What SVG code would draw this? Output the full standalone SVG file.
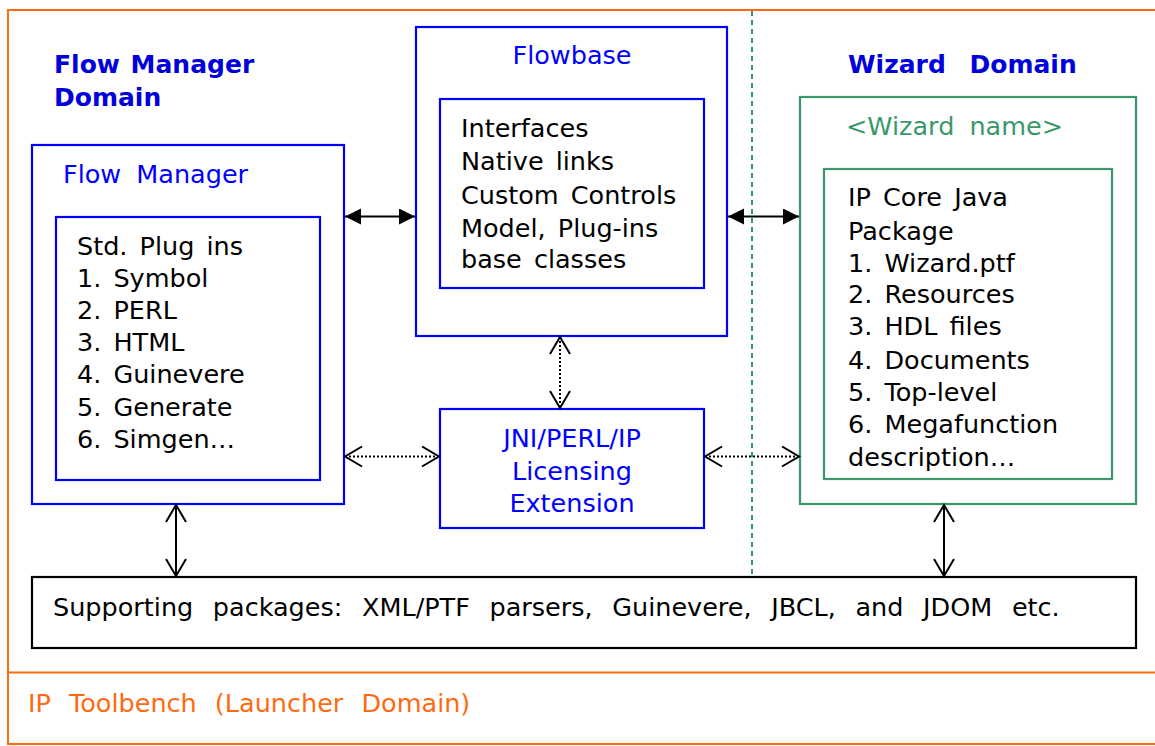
<svg xmlns="http://www.w3.org/2000/svg" width="1155" height="746" viewBox="0 0 1155 746">
  <defs>
    <style>
      text { font-family: "DejaVu Sans", Verdana, "Liberation Sans", sans-serif; font-size: 25.5px; fill: #000; word-spacing: 4px; }
      .title { font-weight: bold; font-size: 25px; fill: #0000dd; word-spacing: 2px; }
      .blue { fill: #0000ff; }
      .green { fill: #3a996a; }
      .orange { fill: #ff6a10; }
      .bbox { fill: #fff; stroke: #0000ff; stroke-width: 2.2; }
      .gbox { fill: #fff; stroke: #3a996a; stroke-width: 2.2; }
      .kbox { fill: #fff; stroke: #000; stroke-width: 2.2; }
      .frame { fill: none; stroke: #ff6a10; stroke-width: 2; }
      .solid { stroke: #000; stroke-width: 2; fill: none; }
      .dotted { stroke: #000; stroke-width: 2; fill: none; stroke-dasharray: 2 2; }
      .divider { stroke: #3a996a; stroke-width: 2; stroke-dasharray: 5 4; fill: none; }
    </style>
    <marker id="filled" markerUnits="userSpaceOnUse" markerWidth="18" markerHeight="18" refX="16" refY="8" orient="auto-start-reverse">
      <path d="M0,0 L16,8 L0,16 z" fill="#000"/>
    </marker>
    <marker id="open" markerUnits="userSpaceOnUse" markerWidth="20" markerHeight="24" refX="18" refY="11" orient="auto-start-reverse">
      <path d="M1,1 L18,11 L1,21" fill="none" stroke="#000" stroke-width="2"/>
    </marker>
  </defs>

  <g id="launcher-domain">
    <rect class="frame" x="8" y="10" width="1160" height="734"/>
    <line class="frame" x1="8" y1="672.5" x2="1155" y2="672.5"/>
    <text class="orange" x="28" y="712" style="word-spacing:10px">IP Toolbench (Launcher Domain)</text>
  </g>

  <g id="domain-divider">
    <line class="divider" x1="752" y1="11" x2="752" y2="576"/>
  </g>

  <g id="flow-manager-domain">
    <text class="title" x="54" y="73">Flow Manager</text>
    <text class="title" x="54" y="106">Domain</text>
  </g>

  <g id="flow-manager">
    <rect class="bbox" x="32" y="145" width="312" height="359"/>
    <text class="blue" x="63" y="183" style="word-spacing:7px">Flow Manager</text>
  </g>

  <g id="std-plugins">
    <rect class="bbox" x="56" y="217" width="264" height="263"/>
    <text x="77" y="255">Std. Plug ins</text>
    <text x="77" y="287">1. Symbol</text>
    <text x="77" y="319">2. PERL</text>
    <text x="77" y="351">3. HTML</text>
    <text x="77" y="383">4. Guinevere</text>
    <text x="77" y="416">5. Generate</text>
    <text x="77" y="448">6. Simgen…</text>
  </g>

  <g id="flowbase">
    <rect class="bbox" x="416" y="27" width="311" height="309"/>
    <text class="blue" x="572" y="64" text-anchor="middle">Flowbase</text>
  </g>

  <g id="flowbase-contents">
    <rect class="bbox" x="440" y="99" width="264" height="189"/>
    <text x="461" y="137">Interfaces</text>
    <text x="461" y="170">Native links</text>
    <text x="461" y="204">Custom Controls</text>
    <text x="461" y="237">Model, Plug-ins</text>
    <text x="461" y="268">base classes</text>
  </g>

  <g id="jni-extension">
    <rect class="bbox" x="440" y="409" width="264" height="119"/>
    <text class="blue" x="572" y="447" text-anchor="middle">JNI/PERL/IP</text>
    <text class="blue" x="572" y="480" text-anchor="middle">Licensing</text>
    <text class="blue" x="572" y="512" text-anchor="middle">Extension</text>
  </g>

  <g id="wizard-domain">
    <text class="title" x="848" y="73" style="word-spacing:15px">Wizard Domain</text>
  </g>

  <g id="wizard">
    <rect class="gbox" x="800" y="97" width="336" height="407"/>
    <text class="green" x="846" y="135" style="word-spacing:7px">&lt;Wizard name&gt;</text>
  </g>

  <g id="ip-core-package">
    <rect class="gbox" x="824" y="169" width="288" height="310"/>
    <text x="848" y="206">IP Core Java</text>
    <text x="848" y="240">Package</text>
    <text x="848" y="272">1. Wizard.ptf</text>
    <text x="848" y="303">2. Resources</text>
    <text x="848" y="335">3. HDL files</text>
    <text x="848" y="369">4. Documents</text>
    <text x="848" y="401">5. Top-level</text>
    <text x="848" y="433">6. Megafunction</text>
    <text x="848" y="466">description…</text>
  </g>

  <g id="supporting-packages">
    <rect class="kbox" x="32" y="577" width="1104" height="71"/>
    <text x="53" y="616" style="word-spacing:11.5px">Supporting packages: XML/PTF parsers, Guinevere, JBCL, and JDOM etc.</text>
  </g>

  <g id="connectors">
    <line class="solid" x1="345" y1="216.5" x2="415" y2="216.5" marker-start="url(#filled)" marker-end="url(#filled)"/>
    <line class="solid" x1="728" y1="216.5" x2="799" y2="216.5" marker-start="url(#filled)" marker-end="url(#filled)"/>
    <line class="dotted" x1="560" y1="337" x2="560" y2="408" marker-start="url(#open)" marker-end="url(#open)"/>
    <line class="dotted" x1="345" y1="456.5" x2="439" y2="456.5" marker-start="url(#open)" marker-end="url(#open)"/>
    <line class="dotted" x1="705" y1="456.5" x2="799" y2="456.5" marker-start="url(#open)" marker-end="url(#open)"/>
    <line class="solid" x1="176" y1="505" x2="176" y2="576" marker-start="url(#open)" marker-end="url(#open)"/>
    <line class="solid" x1="944" y1="505" x2="944" y2="576" marker-start="url(#open)" marker-end="url(#open)"/>
  </g>
</svg>
